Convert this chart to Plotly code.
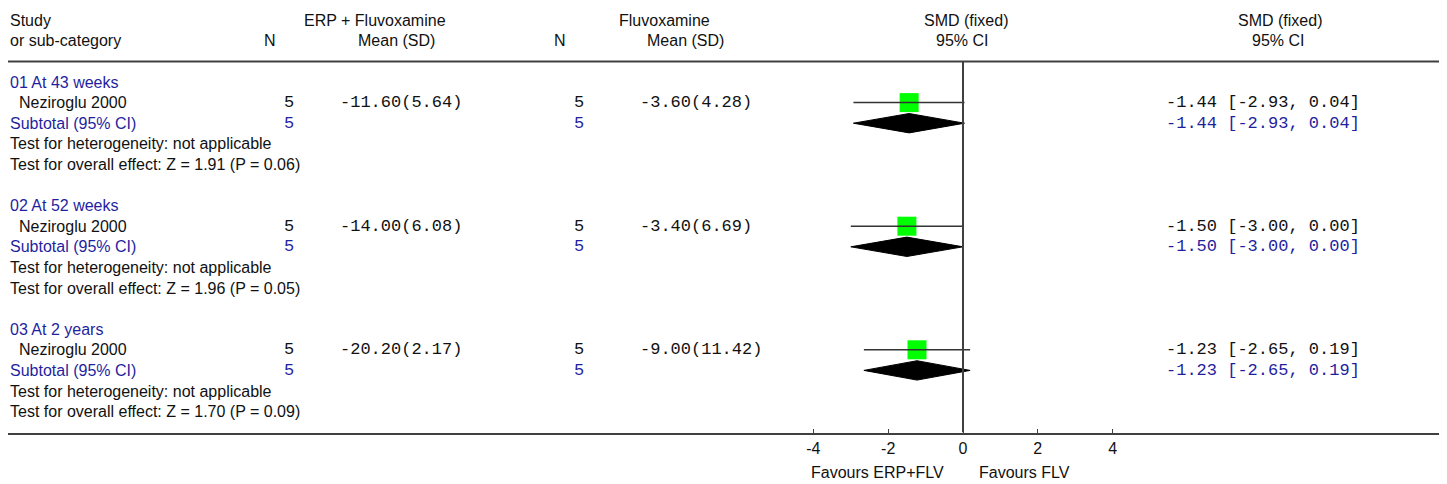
import plotly.graph_objects as go

# ---------------- data ----------------
groups = ["01 At 43 weeks", "02 At 52 weeks", "03 At 2 years"]
studies = ["Neziroglu 2000", "Neziroglu 2000", "Neziroglu 2000"]
n_trt = [5, 5, 5]
mean_trt = [-11.60, -14.00, -20.20]
sd_trt = [5.64, 6.08, 2.17]
n_ctl = [5, 5, 5]
mean_ctl = [-3.60, -3.40, -9.00]
sd_ctl = [4.28, 6.69, 11.42]
smd = [-1.44, -1.50, -1.23]
ci_lo = [-2.93, -3.00, -2.65]
ci_hi = [0.04, 0.00, 0.19]
z_vals = [1.91, 1.96, 1.70]
p_vals = [0.06, 0.05, 0.09]
tick_vals = [-4, -2, 0, 2, 4]
left_label = "Favours ERP+FLV"
right_label = "Favours FLV"

# ---------------- style / geometry ----------------
OFF = 8                      # the page body margin offsets the figure by 8px
W, H = 1447 - OFF, 484 - OFF
ML, MR, MT = 0, 4, 0
PLOT_BOTTOM = 433 - OFF      # axis line position (figure px)
MB = H - PLOT_BOTTOM
BLUE = "#1f1f9f"
TXT = "#111111"
LINE = "#404040"
SANS = "Liberation Sans, Arial, sans-serif"
MONO = "Liberation Mono, Courier New, monospace"
FS = 16
FM = 17

def px(p):
    """reference pixel x -> paper x"""
    return (p - OFF - ML) / (W - ML - MR)

def py(p):
    """reference pixel y -> paper y"""
    return (PLOT_BOTTOM - (p - OFF)) / (PLOT_BOTTOM - MT)

fig = go.Figure()
annotations = []

def txt(p, k, s, anchor="left", color=TXT, font=SANS, size=FS):
    annotations.append(dict(
        x=px(p), xref="paper", y=k, yref="y", text=s, showarrow=False,
        xanchor=anchor, yanchor="middle",
        font=dict(family=font, size=size, color=color)))

# headers
txt(8, -3, "Study")
txt(8, -2, "or sub-category")
txt(270, -2, "N", "center")
txt(375, -3, "ERP + Fluvoxamine", "center")
txt(396, -2, "Mean (SD)", "center")
txt(560, -2, "N", "center")
txt(664, -3, "Fluvoxamine", "center")
txt(685, -2, "Mean (SD)", "center")
txt(966, -3, "SMD (fixed)", "center")
txt(962, -2, "95% CI", "center")
txt(1280, -3, "SMD (fixed)", "center")
txt(1278, -2, "95% CI", "center")

for g in range(len(groups)):
    base = 6 * g
    k_study = base + 1
    k_sub = base + 2
    txt(8, base, groups[g], color=BLUE)
    txt(17, k_study, studies[g])
    txt(296, k_study, str(n_trt[g]), "right", font=MONO, size=FM)
    txt(338, k_study, f"{mean_trt[g]:.2f}({sd_trt[g]:.2f})", font=MONO, size=FM)
    txt(586, k_study, str(n_ctl[g]), "right", font=MONO, size=FM)
    txt(638, k_study, f"{mean_ctl[g]:.2f}({sd_ctl[g]:.2f})", font=MONO, size=FM)
    ci_txt = f"{smd[g]:.2f} [{ci_lo[g]:.2f}, {ci_hi[g]:.2f}]"
    txt(1164, k_study, ci_txt, font=MONO, size=FM)
    txt(8, k_sub, "Subtotal (95% CI)", color=BLUE)
    txt(296, k_sub, str(n_trt[g]), "right", color=BLUE, font=MONO, size=FM)
    txt(586, k_sub, str(n_ctl[g]), "right", color=BLUE, font=MONO, size=FM)
    txt(1164, k_sub, ci_txt, color=BLUE, font=MONO, size=FM)
    txt(8, base + 3, "Test for heterogeneity: not applicable")
    txt(8, base + 4, f"Test for overall effect: Z = {z_vals[g]:.2f} (P = {p_vals[g]:.2f})")

    # study square
    fig.add_trace(go.Scatter(
        x=[smd[g]], y=[k_study], mode="markers",
        marker=dict(symbol="square", size=19, color="#00ff00", line=dict(width=0)),
        showlegend=False, hoverinfo="skip"))
    # CI line
    fig.add_trace(go.Scatter(
        x=[ci_lo[g], ci_hi[g]], y=[k_study, k_study], mode="lines",
        line=dict(color="#333333", width=1.5), showlegend=False, hoverinfo="skip"))
    # subtotal diamond
    hh = 0.47
    fig.add_trace(go.Scatter(
        x=[ci_lo[g], smd[g], ci_hi[g], smd[g], ci_lo[g]],
        y=[k_sub, k_sub - hh, k_sub, k_sub + hh, k_sub],
        mode="lines", fill="toself", fillcolor="#000000",
        line=dict(color="#000000", width=1), showlegend=False, hoverinfo="skip"))

# zero line
fig.add_trace(go.Scatter(
    x=[0, 0], y=[-1, 17], mode="lines",
    line=dict(color=LINE, width=2), showlegend=False, hoverinfo="skip"))

# favours labels (paper coords, below the axis)
x0_ref, unit = 963.0, 37.4
annotations.append(dict(x=px(x0_ref - 17), xref="paper", y=py(472), yref="paper",
                        text=left_label, showarrow=False, xanchor="right", yanchor="middle",
                        font=dict(family=SANS, size=FS, color=TXT)))
annotations.append(dict(x=px(x0_ref + 14), xref="paper", y=py(472), yref="paper",
                        text=right_label, showarrow=False, xanchor="left", yanchor="middle",
                        font=dict(family=SANS, size=FS, color=TXT)))

# axis ranges from pixel geometry
x0_fig = x0_ref - OFF
x_range = [(ML - x0_fig) / unit, (W - MR - x0_fig) / unit]
row0_fig, row_h = 82.0 - OFF, 20.6
y_range = [(PLOT_BOTTOM - row0_fig) / row_h, (0 - row0_fig) / row_h]

fig.update_layout(
    width=W, height=H,
    margin=dict(l=ML, r=MR, t=MT, b=MB, pad=0),
    paper_bgcolor="white", plot_bgcolor="white",
    annotations=annotations,
    shapes=[dict(type="line", xref="paper", x0=0, x1=1, yref="y", y0=-1, y1=-1,
                 line=dict(color=LINE, width=2))],
    xaxis=dict(range=x_range, tickvals=tick_vals, ticktext=[str(v) for v in tick_vals],
               showgrid=False, zeroline=False, showline=True, linecolor=LINE, linewidth=2,
               ticks="inside", ticklen=4, tickcolor=LINE, tickwidth=1,
               tickfont=dict(family=SANS, size=FS, color=TXT), fixedrange=True),
    yaxis=dict(range=y_range, showgrid=False, zeroline=False, showline=False,
               showticklabels=False, ticks="", fixedrange=True),
)

fig.write_html("out.html")
